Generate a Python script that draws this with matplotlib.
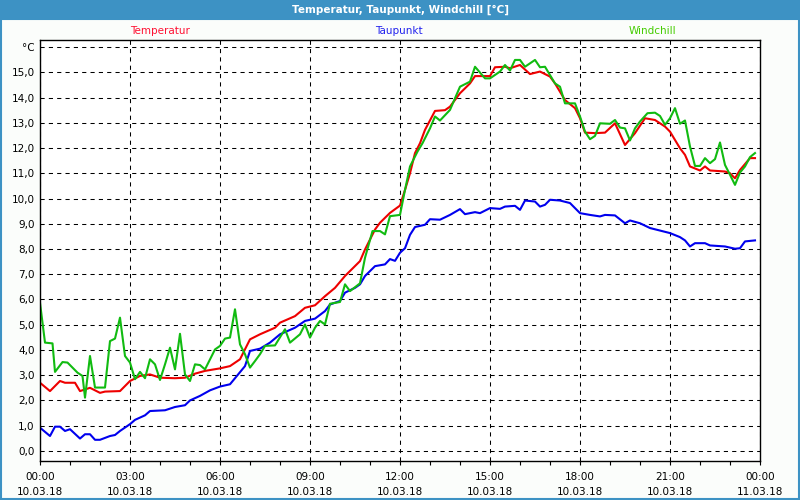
import matplotlib
matplotlib.use("Agg")
import matplotlib.pyplot as plt
from matplotlib.patches import Rectangle
import numpy as np

# Messwerte 10.03.18 (Minuten seit 00:00)
temp_min = [0, 20, 40, 50, 70, 80, 100, 120, 130, 160, 180, 200, 220, 240, 270, 290, 310, 330, 360, 380,
            400, 420, 440, 470, 480, 510, 530, 550, 570, 590, 610, 640, 650, 670, 680, 700, 720, 730, 740, 750,
            760, 770, 790, 810, 820, 840, 860, 870, 900, 910, 930, 940, 960, 980, 1000, 1020, 1030, 1050, 1070, 1080,
            1090, 1110, 1130, 1150, 1170, 1190, 1210, 1230, 1250, 1260, 1280, 1290, 1300, 1320, 1330, 1340, 1370, 1380, 1390, 1400,
            1420, 1430]
temp_val = [2.7, 2.37, 2.77, 2.7, 2.7, 2.37, 2.5, 2.3, 2.35, 2.37, 2.77, 2.97, 3.03, 2.9, 2.88, 2.9, 3.06, 3.17, 3.27, 3.36,
            3.63, 4.42, 4.62, 4.88, 5.08, 5.34, 5.67, 5.77, 6.13, 6.46, 6.93, 7.52, 7.98, 8.77, 9.04, 9.43, 9.72, 10.34, 11.0, 11.8,
            12.19, 12.72, 13.47, 13.5, 13.64, 14.17, 14.56, 14.85, 14.85, 15.2, 15.22, 15.16, 15.29, 14.93, 15.03, 14.83, 14.56, 13.9, 13.58, 13.18,
            12.61, 12.59, 12.61, 12.98, 12.12, 12.59, 13.18, 13.11, 12.85, 12.65, 11.99, 11.73, 11.27, 11.11, 11.27, 11.11, 11.07, 11.0, 10.8, 11.13,
            11.6, 11.6]

dew_min = [0, 20, 30, 40, 50, 60, 80, 90, 100, 110, 120, 140, 150, 160, 180, 190, 210, 220, 250, 270,
           290, 300, 320, 340, 360, 380, 390, 410, 420, 440, 460, 480, 510, 530, 550, 570, 580, 600, 610, 630,
           640, 650, 670, 690, 700, 710, 720, 730, 740, 750, 770, 780, 800, 820, 840, 850, 870, 880, 900, 920,
           930, 950, 960, 970, 990, 1000, 1010, 1020, 1040, 1060, 1080, 1100, 1120, 1130, 1150, 1170, 1180, 1200, 1220, 1240,
           1260, 1280, 1290, 1300, 1310, 1330, 1340, 1370, 1390, 1400, 1410, 1430]
dew_val = [0.92, 0.59, 0.96, 0.96, 0.79, 0.86, 0.49, 0.66, 0.66, 0.44, 0.44, 0.59, 0.63, 0.79, 1.06, 1.23, 1.41, 1.58, 1.61, 1.74,
           1.81, 2.0, 2.18, 2.4, 2.55, 2.64, 2.88, 3.36, 3.96, 4.05, 4.29, 4.62, 4.88, 5.15, 5.24, 5.54, 5.8, 5.94, 6.27, 6.46,
           6.6, 6.93, 7.32, 7.39, 7.6, 7.53, 7.85, 8.03, 8.56, 8.87, 8.96, 9.18, 9.16, 9.35, 9.58, 9.38, 9.46, 9.42, 9.62, 9.59,
           9.68, 9.71, 9.55, 9.92, 9.88, 9.68, 9.75, 9.95, 9.92, 9.82, 9.42, 9.35, 9.29, 9.35, 9.33, 9.02, 9.13, 9.02, 8.83, 8.73,
           8.63, 8.47, 8.34, 8.1, 8.23, 8.23, 8.14, 8.1, 8.01, 8.03, 8.3, 8.34]

wc_min = [0, 10, 25, 30, 45, 55, 65, 75, 85, 90, 100, 110, 130, 140, 150, 160, 170, 180, 190, 200,
          210, 220, 230, 240, 250, 260, 270, 280, 290, 300, 310, 320, 330, 350, 360, 370, 380, 390, 400, 410,
          420, 430, 440, 450, 470, 490, 500, 520, 530, 540, 550, 560, 570, 580, 600, 610, 620, 640, 650, 665,
          680, 690, 700, 720, 730, 740, 755, 765, 780, 790, 800, 820, 840, 860, 870, 890, 900, 920, 930, 940,
          950, 960, 970, 990, 1000, 1010, 1030, 1040, 1050, 1070, 1080, 1090, 1100, 1110, 1120, 1140, 1150, 1160, 1170, 1180,
          1190, 1200, 1215, 1230, 1240, 1250, 1260, 1270, 1280, 1290, 1300, 1310, 1320, 1330, 1340, 1350, 1360, 1370, 1380, 1390,
          1400, 1410, 1420, 1430]
wc_val = [5.87, 4.29, 4.26, 3.13, 3.52, 3.5, 3.3, 3.1, 2.97, 2.11, 3.76, 2.51, 2.51, 4.35, 4.45, 5.28, 3.76, 3.5, 2.84, 3.13,
          2.88, 3.63, 3.43, 2.81, 3.43, 4.09, 3.23, 4.64, 3.03, 2.77, 3.43, 3.4, 3.23, 4.02, 4.16, 4.45, 4.49, 5.61, 4.22, 3.83,
          3.3, 3.56, 3.83, 4.16, 4.18, 4.82, 4.29, 4.62, 5.01, 4.49, 4.88, 5.15, 5.01, 5.83, 5.9, 6.6, 6.33, 6.64, 7.65, 8.71,
          8.71, 8.58, 9.3, 9.35, 10.34, 11.27, 11.86, 12.19, 12.78, 13.25, 13.09, 13.51, 14.43, 14.63, 15.22, 14.76, 14.76, 15.03, 15.29, 15.07,
          15.49, 15.49, 15.22, 15.49, 15.2, 15.22, 14.56, 14.43, 13.77, 13.77, 13.25, 12.65, 12.35, 12.48, 12.98, 12.96, 13.11, 12.81, 12.78, 12.3,
          12.78, 13.05, 13.38, 13.4, 13.27, 12.92, 13.18, 13.58, 12.96, 13.09, 12.06, 11.29, 11.29, 11.6, 11.4, 11.56, 12.22, 11.33, 10.94, 10.54,
          11.03, 11.27, 11.64, 11.8]

x_ticks = [0, 3, 6, 9, 12, 15, 18, 21, 24]
x_labels = ["00:00\n10.03.18", "03:00\n10.03.18", "06:00\n10.03.18", "09:00\n10.03.18", "12:00\n10.03.18",
            "15:00\n10.03.18", "18:00\n10.03.18", "21:00\n10.03.18", "00:00\n11.03.18"]
y_ticks = list(range(0, 17))
y_labels = [f"{v},0" for v in range(0, 16)] + ["°C"]

plt.rcParams["font.family"] = ["DejaVu Sans"]

fig = plt.figure(figsize=(8, 5), dpi=100)
fig.patch.set_facecolor("#fbfdfb")

# title bar
fig.add_artist(Rectangle((0, 0.96), 1, 0.04, transform=fig.transFigure, facecolor="#3d92c4", edgecolor="none"))
fig.text(0.5, 0.98, "Temperatur, Taupunkt, Windchill [°C]", color="white", fontsize=7.5, fontweight="bold",
         ha="center", va="center")
fig.add_artist(Rectangle((0.001, 0.002), 0.998, 0.96, transform=fig.transFigure, facecolor="none",
                         edgecolor="#3d92c4", lw=1.5))

ax = fig.add_axes([0.05, 0.078, 0.90, 0.842])
ax.set_facecolor("white")

ax.plot(np.array(temp_min) / 60, temp_val, color="#ee0000", lw=1.5)
ax.plot(np.array(dew_min) / 60, dew_val, color="#0000ee", lw=1.5)
ax.plot(np.array(wc_min) / 60, wc_val, color="#11bb11", lw=1.5)

ax.set_xlim(0, 24)
ax.set_ylim(-0.4, 16.28)
ax.set_xticks(x_ticks)
ax.set_xticklabels(x_labels, fontsize=7.5, linespacing=1.6)
ax.set_xticks(range(0, 25), minor=True)
ax.set_yticks(y_ticks)
ax.set_yticklabels(y_labels, fontsize=7.5)
ax.tick_params(axis="x", which="both", length=3, width=0.8, pad=5, color="black")
ax.tick_params(axis="y", length=0, pad=4)
ax.grid(True, color="black", linestyle=(0, (4, 4)), lw=0.75)
for s in ax.spines.values():
    s.set_linewidth(1.0)
    s.set_color("black")

fig.text(160 / 800, 1 - 31 / 500, "Temperatur", color="#ff1133", fontsize=7.5, ha="center", va="center")
fig.text(399 / 800, 1 - 31 / 500, "Taupunkt", color="#2222ee", fontsize=7.5, ha="center", va="center")
fig.text(652 / 800, 1 - 31 / 500, "Windchill", color="#44cc00", fontsize=7.5, ha="center", va="center")

plt.savefig("out.png", dpi=100, facecolor=fig.get_facecolor())
plt.close()
